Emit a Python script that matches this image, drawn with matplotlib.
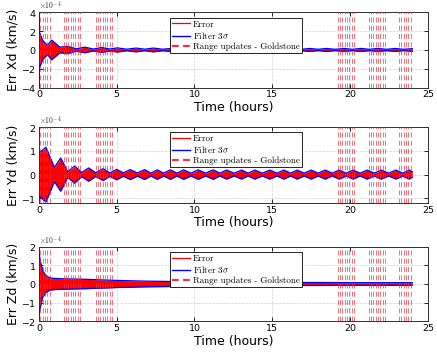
import numpy as np
import matplotlib.pyplot as plt
from matplotlib.lines import Line2D

plt.rcParams['mathtext.fontset'] = 'cm'

# 3-sigma envelope of the filter, in units of 1e-4 km/s (time in hours)
xd_t = [0, 0.03, 0.25, 0.55, 0.82, 1.35, 1.85, 2.4, 2.95, 3.5, 4.05, 4.55, 5.05,
        5.65, 6.25, 6.8, 7.35, 7.95, 8.6, 9.15, 9.7, 10.25, 10.8, 11.35, 11.9,
        12.45, 13.0, 13.55, 14.1, 14.65, 15.2, 15.75, 16.3, 16.85, 17.4, 17.95,
        18.5, 19.05, 19.6, 20.15, 20.7, 21.25, 21.8, 22.35, 22.9, 23.45, 24.0]
xd_sig = [5.0, 1.9, 1.0, 0.5, 1.05, 0.3, 0.38, 0.12, 0.3, 0.1, 0.26, 0.1, 0.22,
          0.08, 0.2, 0.08, 0.2, 0.08, 0.18, 0.08, 0.18, 0.07, 0.17, 0.07, 0.17,
          0.07, 0.16, 0.07, 0.16, 0.07, 0.16, 0.07, 0.16, 0.07, 0.16, 0.07,
          0.16, 0.07, 0.16, 0.07, 0.16, 0.07, 0.16, 0.07, 0.16, 0.07, 0.14]

yd_t = [0, 0.45, 1.0, 1.4, 1.85, 2.3, 2.75, 3.2, 3.65, 4.13, 4.57, 5.0, 5.43,
        5.87, 6.33, 6.8, 7.2, 7.6, 8.02, 8.45, 8.88, 9.3, 9.77, 10.24, 10.72,
        11.2, 11.63, 12.06, 12.55, 13.03, 13.45, 13.88, 14.36, 14.84, 15.3,
        15.75, 16.18, 16.6, 17.05, 17.5, 17.95, 18.4, 18.85, 19.3, 19.75, 20.2,
        20.65, 21.1, 21.55, 22.0, 22.48, 22.95, 23.38, 23.8, 24.0]
yd_sig = [0.9, 1.15, 0.3, 0.7, 0.12, 0.36, 0.09, 0.28, 0.08, 0.25, 0.07, 0.22,
          0.07, 0.21, 0.07, 0.21, 0.06, 0.2, 0.06, 0.2, 0.06, 0.2, 0.06, 0.2,
          0.06, 0.2, 0.06, 0.19, 0.06, 0.19, 0.06, 0.19, 0.06, 0.19, 0.06,
          0.19, 0.06, 0.19, 0.06, 0.19, 0.06, 0.19, 0.06, 0.19, 0.06, 0.19,
          0.06, 0.19, 0.06, 0.19, 0.06, 0.19, 0.06, 0.19, 0.12]

zd_t = [0, 0.1, 0.25, 0.45, 0.7, 1.0, 1.5, 2.0, 3.0, 4.0, 5.0, 6.0, 7.0, 8.0,
        9.0, 10.0, 12.0, 14.0, 16.0, 18.0, 20.0, 22.0, 24.0]
zd_sig = [1.65, 1.2, 0.7, 0.45, 0.33, 0.3, 0.28, 0.27, 0.25, 0.22, 0.19, 0.17,
          0.15, 0.14, 0.13, 0.12, 0.1, 0.09, 0.08, 0.08, 0.07, 0.07, 0.07]

# Goldstone range update times (hours)
range_times = [0.1, 0.25, 0.4, 0.55, 0.7,
               1.6, 1.75, 1.9, 2.05, 2.2, 2.35, 2.5, 2.65,
               3.65, 3.8, 3.95, 4.1, 4.25, 4.4, 4.55, 4.7,
               19.2, 19.35, 19.5, 19.65, 19.8, 19.95, 20.1, 20.25,
               21.2, 21.35, 21.5, 21.65, 21.8, 21.95, 22.1, 22.25,
               23.15, 23.3, 23.45, 23.6, 23.75, 23.9]

panels = [
    (xd_t, xd_sig, 'Err Xd (km/s)', (-4, 4), [-4, -2, 0, 2, 4]),
    (yd_t, yd_sig, 'Err Yd (km/s)', (-1.2, 2), [-1, 0, 1, 2]),
    (zd_t, zd_sig, 'Err Zd (km/s)', (-2, 2), [-2, -1, 0, 1, 2]),
]
positions = [[0.089, 0.758, 0.890, 0.208],
             [0.089, 0.439, 0.890, 0.210],
             [0.089, 0.112, 0.890, 0.207]]
legend_top = [0.925, 0.934, 0.925]

scale = 1e-4
red = '#ff0000'
blue = '#0000ff'
range_col = '#f03040'

fig = plt.figure(figsize=(4.37, 3.62), dpi=100)

for i, (t, sig, ylab, ylim, yt) in enumerate(panels):
    ax = fig.add_axes(positions[i])
    t = np.array(t)
    s = np.array(sig) * scale
    ax.fill_between(t, -s, s, color=red, lw=0, zorder=2)
    ax.plot(t, s, color=blue, lw=0.9, zorder=3)
    ax.plot(t, -s, color=blue, lw=0.9, zorder=3)
    for rt in range_times:
        ax.axvline(rt, color=range_col, lw=0.7, alpha=0.7,
                   ls=(0, (5, 3.5)), zorder=4)

    ax.set_xlim(0, 25)
    ax.set_xticks([0, 5, 10, 15, 20, 25])
    ax.set_ylim(ylim[0] * scale, ylim[1] * scale)
    ax.set_yticks([v * scale for v in yt])
    ax.ticklabel_format(axis='y', style='sci', scilimits=(0, 0), useMathText=True)
    ax.yaxis.get_offset_text().set_visible(False)
    ax.text(0.0, 1.0, r'$\times10^{-4}$', transform=ax.transAxes,
            fontsize=5.5, va='bottom', ha='left', color='#303030')
    ax.tick_params(direction='in', top=True, right=True, labelsize=6.8,
                   length=3, width=0.6, pad=2)
    ax.grid(True, ls='--', color='#d0d0d0', lw=0.5)
    ax.set_axisbelow(True)
    for sp in ax.spines.values():
        sp.set_linewidth(0.7)
        sp.set_color('#303030')
    ax.set_xlabel('Time (hours)', fontsize=9, labelpad=1)
    ax.set_ylabel(ylab, fontsize=9, labelpad=1)

    handles = [Line2D([], [], color=red, lw=0.9),
               Line2D([], [], color=blue, lw=1.0),
               Line2D([], [], color=range_col, lw=1.6, ls=(0, (3, 2)))]
    leg = ax.legend(handles, ['Error', r'Filter $3\sigma$', 'Range updates - Goldstone'],
                    loc='upper left', bbox_to_anchor=(0.337, legend_top[i]),
                    borderaxespad=0, prop={'family': 'cmr10', 'size': 6.5},
                    fancybox=False, framealpha=1, edgecolor='black',
                    labelspacing=0.15, borderpad=0.25, handlelength=2.0,
                    handletextpad=0.3)
    leg.get_frame().set_linewidth(0.6)
    leg.set_zorder(10)

fig.savefig('out.png', dpi=100)
